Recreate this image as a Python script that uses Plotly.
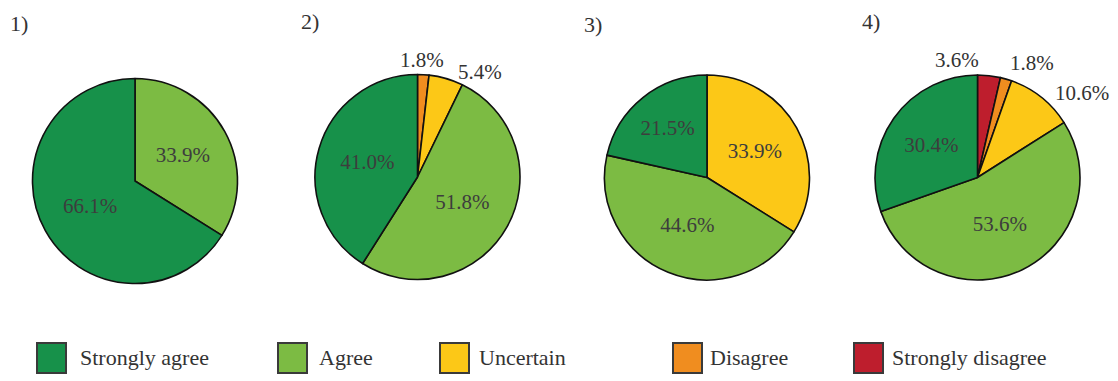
import math
import plotly.graph_objects as go

# Survey response categories and their colours
categories = ["Strongly agree", "Agree", "Uncertain", "Disagree", "Strongly disagree"]
colors = ["#17914a", "#7cbb43", "#fcc817", "#f08d1f", "#be1e2d"]

# Percentage shares for each of the four questions
q1 = [66.1, 33.9, 0, 0, 0]
q2 = [41.0, 51.8, 5.4, 1.8, 0]
q3 = [21.5, 44.6, 33.9, 0, 0]
q4 = [30.4, 53.6, 10.6, 1.8, 3.6]
panel_titles = ["1)", "2)", "3)", "4)"]

W, H = 1118, 381
FONT = "Liberation Serif"
TEXT_DARK = "#3d3d3d"

# Pie placement in pixels: centre x, centre y, radius
pie_geom = [(135, 181, 102.5), (417.5, 177, 102.5), (707, 177.5, 102.5), (977.5, 177.5, 102.5)]
title_pos = [(19, 23), (310, 22), (593, 24), (871, 22)]
# slices smaller than this get their label outside the pie
SMALL = 12.0
# pixel nudges for outside labels, keyed by (pie index, category index)
outside_nudge = {(1, 3): (-2, -4), (1, 2): (29, -11),
                 (3, 4): (-34, -3), (3, 3): (21, -2), (3, 2): (29, -10)}

fig = go.Figure()
annotations = []
shapes = []

for i, vals in enumerate([q1, q2, q3, q4]):
    cx, cy, r = pie_geom[i]
    # slices run clockwise from 12 o'clock starting with the last category,
    # so "Strongly agree" ends up to the left of the top
    order = [k for k in reversed(range(len(categories))) if vals[k] > 0]
    labels = [categories[k] for k in order]
    values = [vals[k] for k in order]
    cols = [colors[k] for k in order]
    texts = [f"{v:.1f}%" if v >= SMALL else "" for v in values]
    fig.add_trace(go.Pie(
        labels=labels, values=values, sort=False, direction="clockwise",
        rotation=0, text=texts, textinfo="text", textposition="inside",
        insidetextorientation="horizontal",
        textfont=dict(family=FONT, size=21, color=TEXT_DARK),
        marker=dict(colors=cols, line=dict(color="#111111", width=1.6)),
        domain=dict(x=[(cx - r) / W, (cx + r) / W], y=[(H - cy - r) / H, (H - cy + r) / H]),
        showlegend=False, hoverinfo="label+percent",
    ))
    # outside labels for the thin slices, placed along each slice's mid angle
    total = sum(values)
    cum = 0.0
    for k, v in zip(order, values):
        mid = cum + v / 2
        cum += v
        if v >= SMALL:
            continue
        ang = 2 * math.pi * mid / total  # clockwise angle from 12 o'clock
        px = cx + 1.18 * r * math.sin(ang)
        py = cy - 1.18 * r * math.cos(ang)
        dx, dy = outside_nudge.get((i, k), (0, 0))
        annotations.append(dict(
            x=px / W, y=1 - py / H, xref="paper", yref="paper",
            text=f"{v:.1f}%", showarrow=False, xshift=dx, yshift=dy,
            xanchor="center", yanchor="middle",
            font=dict(family=FONT, size=21, color="#333333"),
        ))
    tx, ty = title_pos[i]
    annotations.append(dict(
        x=tx / W, y=1 - ty / H, xref="paper", yref="paper", text=panel_titles[i],
        showarrow=False, xanchor="center", yanchor="middle",
        font=dict(family=FONT, size=22, color="#333333"),
    ))

# Legend row drawn along the bottom
legend_box_x = [37, 278, 440, 673, 854]
legend_text_x = [78, 317, 477, 708, 890]
box_w, box_top, box_bot, legend_mid = 29, 343, 373, 357
for c, col, bx, txx in zip(categories, colors, legend_box_x, legend_text_x):
    shapes.append(dict(
        type="rect", xref="paper", yref="paper",
        x0=bx / W, x1=(bx + box_w) / W, y0=1 - box_bot / H, y1=1 - box_top / H,
        fillcolor=col, line=dict(color="#3a3a3a", width=2),
    ))
    annotations.append(dict(
        x=txx / W, y=1 - legend_mid / H, xref="paper", yref="paper", text=c,
        showarrow=False, xanchor="left", yanchor="middle",
        font=dict(family=FONT, size=22, color="#333333"),
    ))

fig.update_layout(
    width=W, height=H, margin=dict(l=0, r=0, t=0, b=0),
    paper_bgcolor="white", plot_bgcolor="white",
    annotations=annotations, shapes=shapes,
)

fig.write_html("out.html")
